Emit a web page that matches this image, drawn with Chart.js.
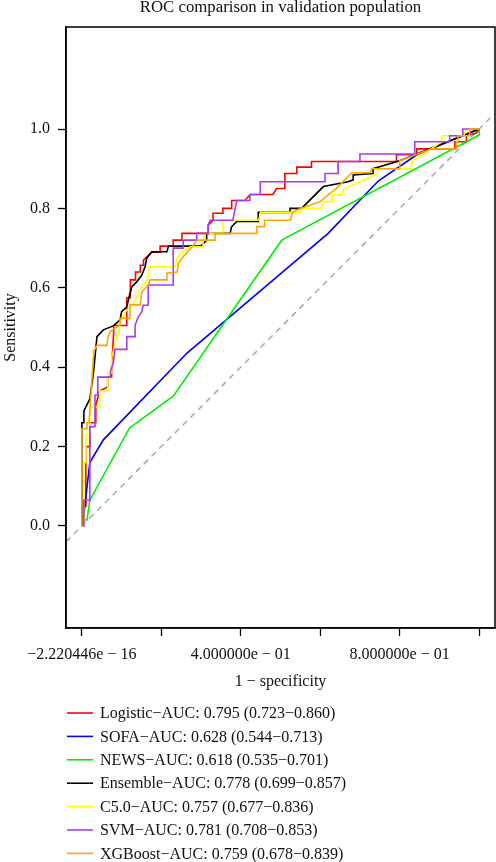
<!DOCTYPE html>
<html>
<head>
<meta charset="utf-8">
<script src="https://cdn.jsdelivr.net/npm/chart.js@4.4.1/dist/chart.umd.min.js"></script>
<style>
  html, body { margin: 0; padding: 0; background: #fff; }
</style>
</head>
<body>
<canvas id="roc" width="496" height="862"></canvas>
<script>
// --- data: [1 - specificity, sensitivity] ---
const logisticRoc = [[0,0],[0,0.05],[0.01,0.05],[0.01,0.2],[0.02,0.2],[0.02,0.26],[0.035,0.26],[0.035,0.305],[0.045,0.34],[0.065,0.35],
  [0.065,0.376],[0.075,0.376],[0.075,0.41],[0.078,0.45],[0.08,0.49],[0.08,0.505],[0.113,0.505],[0.113,0.575],[0.122,0.575],[0.122,0.62],
  [0.135,0.62],[0.135,0.64],[0.147,0.64],[0.147,0.657],[0.155,0.657],[0.155,0.67],[0.176,0.69],[0.197,0.69],[0.197,0.705],[0.23,0.705],
  [0.23,0.72],[0.252,0.72],[0.252,0.737],[0.318,0.737],[0.318,0.758],[0.33,0.77],[0.33,0.788],[0.355,0.788],[0.355,0.8],[0.377,0.8],
  [0.377,0.82],[0.41,0.82],[0.424,0.835],[0.481,0.835],[0.49,0.85],[0.511,0.85],[0.511,0.888],[0.541,0.888],[0.541,0.904],[0.578,0.904],
  [0.578,0.918],[0.792,0.918],[0.792,0.935],[0.843,0.935],[0.843,0.95],[0.939,0.95],[0.939,0.968],[0.968,0.968],[0.968,0.983],[0.993,0.99],[1,1]];

const sofaRoc = [[0,0],[0.005,0.03],[0.02,0.16],[0.054,0.217],[0.264,0.435],[0.62,0.737],[0.746,0.869],[0.843,0.935],[1,1]];

const newsRoc = [[0,0],[0,0.015],[0.013,0.015],[0.02,0.065],[0.12,0.247],[0.23,0.327],[0.503,0.72],[1,0.985],[1,1]];

const ensembleRoc = [[0,0],[0,0.26],[0.005,0.26],[0.005,0.29],[0.02,0.32],[0.029,0.385],[0.038,0.477],[0.054,0.494],[0.079,0.504],[0.096,0.519],
  [0.1,0.54],[0.113,0.552],[0.12,0.582],[0.126,0.603],[0.138,0.615],[0.151,0.632],[0.159,0.653],[0.163,0.674],[0.176,0.691],[0.214,0.691],
  [0.218,0.705],[0.3,0.705],[0.314,0.72],[0.314,0.737],[0.373,0.737],[0.377,0.754],[0.39,0.767],[0.444,0.767],[0.444,0.79],[0.524,0.79],
  [0.524,0.8],[0.553,0.8],[0.608,0.855],[0.67,0.867],[0.683,0.872],[0.683,0.884],[0.733,0.888],[0.733,0.9],[0.8,0.92],[0.9,0.96],[1,1]];

const c50Roc = [[0,0],[0.005,0],[0.005,0.16],[0.01,0.16],[0.01,0.23],[0.02,0.23],[0.02,0.3],[0.045,0.3],[0.045,0.34],[0.065,0.34],
  [0.065,0.385],[0.075,0.385],[0.075,0.425],[0.088,0.477],[0.096,0.51],[0.11,0.54],[0.125,0.555],[0.14,0.58],[0.145,0.595],[0.165,0.62],
  [0.17,0.653],[0.235,0.653],[0.24,0.675],[0.25,0.688],[0.273,0.703],[0.305,0.703],[0.305,0.72],[0.31,0.737],[0.355,0.737],[0.355,0.77],
  [0.445,0.77],[0.45,0.79],[0.55,0.79],[0.555,0.8],[0.6,0.8],[0.61,0.817],[0.63,0.817],[0.63,0.834],[0.655,0.834],[0.66,0.85],
  [0.675,0.855],[0.745,0.888],[0.745,0.9],[0.83,0.9],[0.83,0.92],[0.86,0.935],[0.88,0.95],[0.905,0.968],[0.908,0.983],[0.96,0.983],[0.97,1],[1,1]];

const svmRoc = [[0,0],[0.005,0],[0.005,0.065],[0.02,0.065],[0.02,0.25],[0.033,0.25],[0.033,0.33],[0.04,0.33],[0.04,0.375],[0.072,0.375],
  [0.072,0.39],[0.079,0.41],[0.083,0.445],[0.113,0.445],[0.113,0.477],[0.134,0.477],[0.134,0.506],[0.142,0.527],[0.151,0.54],[0.154,0.556],
  [0.167,0.556],[0.167,0.607],[0.23,0.607],[0.23,0.7],[0.255,0.7],[0.255,0.72],[0.289,0.72],[0.289,0.737],[0.318,0.737],[0.318,0.758],
  [0.323,0.77],[0.38,0.77],[0.39,0.82],[0.423,0.82],[0.423,0.835],[0.449,0.835],[0.449,0.867],[0.612,0.867],[0.612,0.888],[0.645,0.888],
  [0.645,0.918],[0.7,0.918],[0.7,0.937],[0.838,0.937],[0.838,0.968],[0.926,0.968],[0.926,0.983],[0.959,0.983],[0.959,1],[1,1]];

const xgboostRoc = [[0,0],[0,0.245],[0.013,0.245],[0.013,0.26],[0.018,0.26],[0.03,0.44],[0.038,0.455],[0.063,0.455],[0.066,0.477],[0.071,0.49],
  [0.096,0.506],[0.096,0.523],[0.121,0.523],[0.121,0.557],[0.147,0.557],[0.151,0.59],[0.167,0.607],[0.172,0.62],[0.214,0.62],[0.214,0.637],
  [0.24,0.64],[0.243,0.662],[0.255,0.678],[0.277,0.703],[0.29,0.72],[0.335,0.72],[0.335,0.737],[0.44,0.737],[0.44,0.754],[0.46,0.754],
  [0.46,0.77],[0.525,0.77],[0.53,0.79],[0.55,0.8],[0.6,0.817],[0.62,0.834],[0.64,0.85],[0.66,0.87],[0.68,0.89],[0.725,0.89],
  [0.73,0.9],[0.8,0.9],[0.8,0.92],[0.88,0.95],[0.943,0.95],[0.943,0.968],[0.947,0.968],[0.947,0.983],[0.976,0.983],[0.976,1],[1,1]];

const legendLabels = [
  'Logistic\u2212AUC: 0.795 (0.723\u22120.860)',
  'SOFA\u2212AUC: 0.628 (0.544\u22120.713)',
  'NEWS\u2212AUC: 0.618 (0.535\u22120.701)',
  'Ensemble\u2212AUC: 0.778 (0.699\u22120.857)',
  'C5.0\u2212AUC: 0.757 (0.677\u22120.836)',
  'SVM\u2212AUC: 0.781 (0.708\u22120.853)',
  'XGBoost\u2212AUC: 0.759 (0.678\u22120.839)'
];
const curveColors = ['#ff0000', '#0000ff', '#00ee00', '#000000', '#ffff00', '#a63cf0', '#ffa500'];

const xTicks = [0, 0.2, 0.4, 0.6, 0.8, 1.0];
const xTickLabels = ['\u22122.220446e \u2212 16', '', '4.000000e \u2212 01', '', '8.000000e \u2212 01', ''];
const yTicks = [0, 0.2, 0.4, 0.6, 0.8, 1.0];

// --- drawing ---
const FONT = "'Liberation Serif', 'DejaVu Serif', serif";
const curves = [logisticRoc, sofaRoc, newsRoc, ensembleRoc, c50Roc, svmRoc, xgboostRoc];

const datasets = curves.map((pts, i) => ({
  label: legendLabels[i],
  data: pts.map(([x, y]) => ({ x, y })),
  borderColor: curveColors[i],
  borderWidth: 1.6,
  pointRadius: 0,
  showLine: true,
  fill: false,
  tension: 0,
  order: curves.length - i   // later models drawn on top, as in R
}));

// reference diagonal (abline), runs across the whole plot region
datasets.push({
  label: 'diag',
  data: [{ x: -0.04, y: -0.04 }, { x: 1.04, y: 1.04 }],
  borderColor: '#a9a9a9',
  borderWidth: 1.5,
  borderDash: [6, 5],
  pointRadius: 0,
  showLine: true,
  order: 99
});

const decorPlugin = {
  id: 'decor',
  beforeDraw(chart) {
    const ctx = chart.ctx;
    ctx.save();
    ctx.fillStyle = '#fff';
    ctx.fillRect(0, 0, chart.width, chart.height);
    ctx.restore();
  },
  afterDraw(chart) {
    const { ctx, chartArea: a } = chart;
    const cx = (a.left + a.right) / 2;
    ctx.save();
    // box round the plot
    ctx.strokeStyle = '#000';
    ctx.lineWidth = 1.5;
    ctx.strokeRect(a.left, a.top, a.right - a.left, a.bottom - a.top);

    ctx.fillStyle = '#111';
    ctx.textAlign = 'center';
    ctx.textBaseline = 'middle';
    ctx.font = `16.8px ${FONT}`;
    ctx.fillText('ROC comparison in validation population', cx, 8);
    ctx.font = `16px ${FONT}`;
    ctx.fillText('1 \u2212 specificity', cx, 682);

    ctx.save();
    ctx.translate(11, (a.top + a.bottom) / 2);
    ctx.rotate(-Math.PI / 2);
    ctx.fillText('Sensitivity', 0, 0);
    ctx.restore();

    // legend, one entry per line
    ctx.textAlign = 'left';
    legendLabels.forEach((txt, i) => {
      const y = 713 + i * 23.4;
      ctx.strokeStyle = curveColors[i];
      ctx.lineWidth = 1.6;
      ctx.beginPath();
      ctx.moveTo(67, y);
      ctx.lineTo(93, y);
      ctx.stroke();
      ctx.fillStyle = '#111';
      ctx.fillText(txt, 100, y + 1);
    });
    ctx.restore();
  }
};

new Chart(document.getElementById('roc'), {
  type: 'scatter',
  data: { datasets },
  options: {
    responsive: false,
    animation: false,
    devicePixelRatio: 1,
    layout: { padding: { top: 27, right: 1, left: 0, bottom: 0 } },
    plugins: { legend: { display: false }, tooltip: { enabled: false }, title: { display: false } },
    scales: {
      x: {
        type: 'linear',
        min: -0.04,
        max: 1.04,
        afterBuildTicks: s => { s.ticks = xTicks.map(v => ({ value: v })); },
        afterFit: s => { s.height = 862 - 628; },
        ticks: {
          autoSkip: false,
          maxRotation: 0,
          minRotation: 0,
          padding: 9,
          color: '#111',
          font: { family: FONT, size: 16 },
          callback: (v, i) => xTickLabels[i]
        },
        grid: { drawOnChartArea: false, drawTicks: true, tickLength: 8, tickColor: '#000', tickWidth: 1.3 },
        border: { display: true, color: '#000', width: 1.5 }
      },
      y: {
        type: 'linear',
        min: -0.257,
        max: 1.257,
        afterBuildTicks: s => { s.ticks = yTicks.map(v => ({ value: v })); },
        afterFit: s => { s.width = 66; },
        ticks: {
          padding: 8,
          color: '#111',
          font: { family: FONT, size: 16 },
          callback: v => v.toFixed(1)
        },
        grid: { drawOnChartArea: false, drawTicks: true, tickLength: 8, tickColor: '#000', tickWidth: 1.3 },
        border: { display: true, color: '#000', width: 1.5 }
      }
    }
  },
  plugins: [decorPlugin]
});
</script>
</body>
</html>
